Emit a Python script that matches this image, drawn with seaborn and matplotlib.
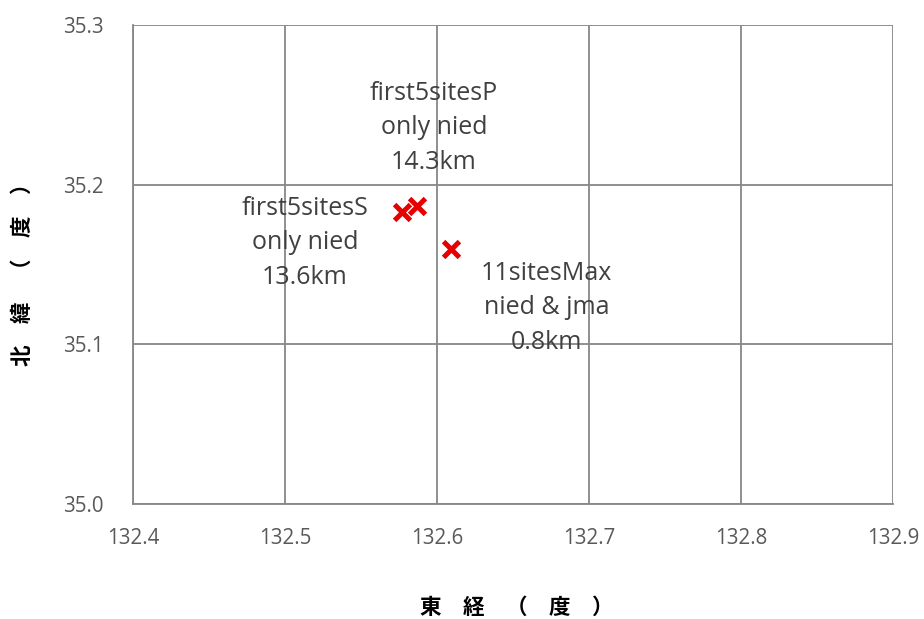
import matplotlib
matplotlib.use("Agg")
import matplotlib.pyplot as plt
import seaborn as sns
import pandas as pd

names = ["first5sitesS", "first5sitesP", "11sitesMax"]
lon = [132.577, 132.587, 132.609]
lat = [35.1830, 35.1866, 35.1597]
labels = ["first5sitesS\nonly nied\n13.6km", "first5sitesP\nonly nied\n14.3km", "11sitesMax\nnied & jma\n0.8km"]
label_pos = [(132.513, 35.1635), (132.598, 35.2355), (132.672, 35.1228)]
xticks = [132.4, 132.5, 132.6, 132.7, 132.8, 132.9]
yticks = [35.0, 35.1, 35.2, 35.3]

df = pd.DataFrame({"name": names, "lon": lon, "lat": lat})

sns.set_theme(style="white")
plt.rcParams['font.family'] = ['Open Sans', 'Noto Sans CJK JP', 'DejaVu Sans']

fig = plt.figure(figsize=(9.24, 6.19), dpi=100)
ax = fig.add_axes([133/924, 1 - 504/619, 760/924, 479/619])

sns.scatterplot(data=df, x="lon", y="lat", marker="x", s=130, color="#e60000",
                linewidth=3.6, ax=ax, zorder=3, legend=False)

for t, (x, y) in zip(labels, label_pos):
    ax.text(x, y, t, ha="center", va="center", fontsize=18, color="#404040",
            linespacing=1.5, zorder=4)

ax.set_xlim(132.4, 132.9)
ax.set_ylim(35.0, 35.3)
ax.set_xticks(xticks)
ax.set_yticks(yticks)
ax.set_xticklabels([f"{v:.1f}" for v in xticks])
ax.set_yticklabels([f"{v:.1f}" for v in yticks])
ax.grid(True, color="#878787", linewidth=1.3)
ax.set_axisbelow(True)
for s in ["top", "right"]:
    ax.spines[s].set_visible(False)
for s in ["left", "bottom"]:
    ax.spines[s].set_color("#878787")
    ax.spines[s].set_linewidth(1.3)
ax.tick_params(axis="both", which="both", direction="out", length=6, width=1.3,
               color="#878787", labelcolor="#595959", labelsize=14.8)
ax.tick_params(axis="y", pad=15)
ax.tick_params(axis="x", pad=11)

ax.set_xlabel("東　経　（　度　）", fontsize=15.5, fontweight="bold", color="black",
              family=['Noto Sans CJK JP', 'DejaVu Sans'])
ax.set_ylabel("北　緯　（　度　）", fontsize=15.5, fontweight="bold", color="black",
              family=['Noto Sans CJK JP', 'DejaVu Sans'])
ax.xaxis.set_label_coords((517 - 133) / 760, (504 - 607) / 479)
ax.xaxis.label.set_va("center")
ax.yaxis.set_label_coords((22 - 133) / 760, 0.49)
ax.yaxis.label.set_va("center")

fig.savefig("out.png", dpi=100)
